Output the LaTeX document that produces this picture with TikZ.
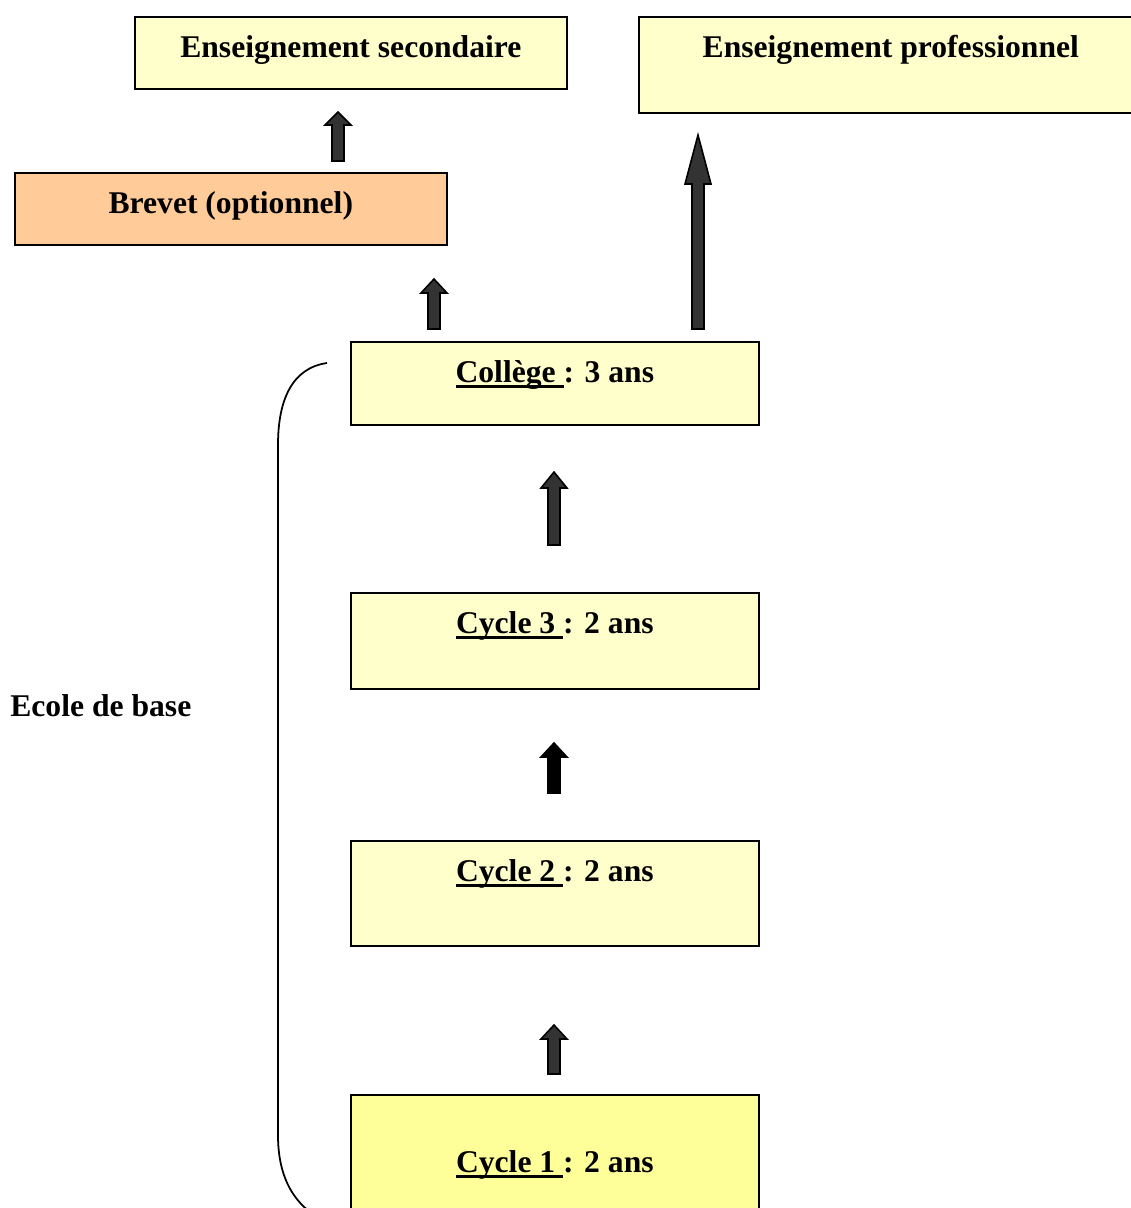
\documentclass[tikz,border=0pt]{standalone}
\usepackage{fontspec}
\setmainfont{Liberation Serif}
\usepackage{tikz}
\usetikzlibrary{shapes,arrows,positioning,calc}
\usepackage{xcolor}

\definecolor{paleyellow}{HTML}{FFFFCC}
\definecolor{lightyellow}{HTML}{FFFF99}
\definecolor{peach}{HTML}{FFCC99}
\definecolor{arrowgray}{HTML}{333333}

% underline that also covers the trailing space
\newcommand{\ulabel}[1]{\setbox0\hbox{#1}\rlap{\rule[-3.2pt]{\wd0}{1.4pt}}\box0}

\tikzset{
    box/.style={draw=black, line width=1pt, fill=paleyellow, anchor=north west, inner sep=0pt},
    lbl/.style={anchor=base, inner sep=0pt, font=\fontsize{18}{22}\selectfont\bfseries},
    blockarrow/.style={draw=black, line width=0.9pt, line join=miter}
}

\begin{document}
\begin{tikzpicture}[x=0.02cm, y=-0.02cm]
    \useasboundingbox (0,0) rectangle (1131,1208);
    \clip (0,0) rectangle (1131,1208);

    % boxes
    \node[box, minimum width=8.64cm, minimum height=1.44cm] (secondaire) at (134,16) {};
    \node[box, minimum width=10.08cm, minimum height=1.92cm] (professionnel) at (638,16) {};
    \node[box, fill=peach, minimum width=8.64cm, minimum height=1.44cm] (brevet) at (14,172) {};
    \node[box, minimum width=8.16cm, minimum height=1.66cm] (college) at (350,341) {};
    \node[box, minimum width=8.16cm, minimum height=1.92cm] (cycle3) at (350,592) {};
    \node[box, minimum width=8.16cm, minimum height=2.1cm] (cycle2) at (350,840) {};
    \node[box, fill=lightyellow, minimum width=8.16cm, minimum height=2.8cm] (cycle1) at (350,1094) {};

    % labels
    \node[lbl] (secondaire-txt) at ($(secondaire.north)+(0,41)$) {Enseignement secondaire};
    \node[lbl] (professionnel-txt) at ($(professionnel.north)+(0,41)$) {Enseignement professionnel};
    \node[lbl] (brevet-txt) at ($(brevet.north)+(0,41)$) {Brevet (optionnel)};
    \node[lbl] (college-txt) at ($(college.north)+(0,41)$) {\ulabel{Collège }: 3 ans};
    \node[lbl] (cycle3-txt) at ($(cycle3.north)+(0,41)$) {\ulabel{Cycle 3 }: 2 ans};
    \node[lbl] (cycle2-txt) at ($(cycle2.north)+(0,41)$) {\ulabel{Cycle 2 }: 2 ans};
    \node[lbl] (cycle1-txt) at ($(cycle1.north)+(0,78)$) {\ulabel{Cycle 1 }: 2 ans};
    \node[lbl, anchor=base west] (ecole) at (10,716) {Ecole de base};

    % block arrows: x / bottom / top / head length / colour
    \foreach \x/\yb/\yt/\h/\c in {338/161/112/13/arrowgray, 434/329/279/14/arrowgray,
                                  698/329/135/49/arrowgray, 554/545/472/16/arrowgray,
                                  554/793/743/14/black, 554/1074/1025/14/arrowgray} {
        \draw[blockarrow, fill=\c] (\x-6,\yb) -- (\x-6,\yt+\h) -- (\x-13,\yt+\h) -- (\x,\yt)
            -- (\x+13,\yt+\h) -- (\x+6,\yt+\h) -- (\x+6,\yb) -- cycle;
    }

    % brace of the ecole de base
    \draw[line width=1pt] (327,363) .. controls (292,368) and (278,400) .. (278,445)
        -- (278,1135) .. controls (278,1175) and (292,1198) .. (310,1212);
\end{tikzpicture}
\end{document}
